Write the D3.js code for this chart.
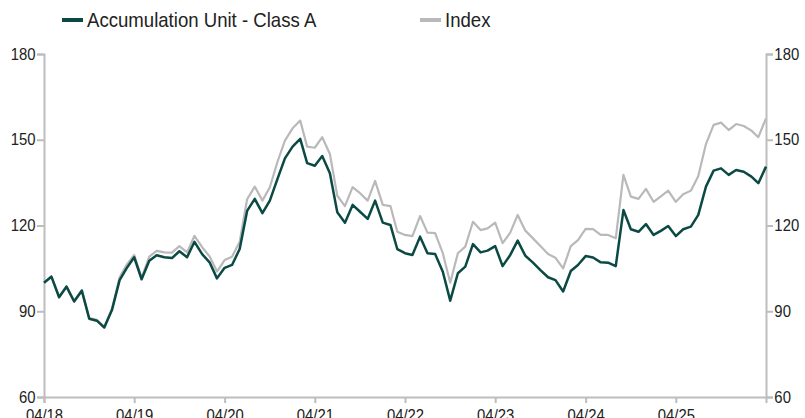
<!DOCTYPE html>
<html>
<head>
<meta charset="utf-8">
<script src="https://cdn.jsdelivr.net/npm/d3@7"></script>
<style>
  body { margin: 0; background: #fff; }
  svg text { font-family: "Liberation Sans", Arial, sans-serif; fill: #222; }
</style>
</head>
<body>
<div id="chart"></div>
<script>
// monthly observations, 04/18 .. 04/26
const startMonth = new Date(2018, 3, 1);
const fundValues = [
  100, 102.1, 94.9, 98.6, 93.4, 97.2, 87.4, 86.7, 84.3, 90.4,
  100.9, 105, 108.9, 101.2, 107.7, 109.6, 108.9, 108.6, 111, 108.9,
  114.3, 110, 107, 101.5, 105.2, 106.2, 111.8, 125.1, 129.3, 124.3,
  128.7, 136.3, 143.5, 147.6, 150.3, 141.8, 140.9, 144.3, 138.3, 124.6,
  121, 127.2, 124.8, 122.3, 128.7, 121, 120.2, 111.7, 110.3, 109.7,
  116.1, 110.3, 110, 103.8, 93.7, 103.3, 105.6, 113.5, 110.6, 111.2,
  112.8, 105.8, 109.7, 114.7, 109.4, 107, 104.4, 101.9, 100.9, 96.9,
  104.1, 106.2, 109.3, 108.8, 107.1, 107, 105.8, 125.4, 118.7, 117.8,
  120.5, 116.7, 118.2, 119.8, 116.3, 118.7, 119.6, 123.7, 133.6, 139.2,
  140, 137.7, 139.4, 138.8, 137.1, 134.8, 140.6
];
const indexValues = [
  100, 102.2, 95.1, 98.8, 93.6, 97.4, 87.6, 87.0, 84.6, 90.8,
  101.9, 106.2, 109.7, 101.8, 109.1, 111.1, 110.6, 110.5, 112.8, 110.6,
  116.4, 112.4, 109.1, 103.9, 107.9, 109.1, 114.3, 129.2, 133.6, 128.7,
  133.4, 142.3, 149.7, 154, 156.7, 147.6, 147.2, 150.9, 145, 130.4,
  126.8, 133.4, 131.3, 128.7, 135.6, 127.2, 126.8, 117.8, 116.7, 116.3,
  123.3, 117.5, 117.3, 110.3, 100, 110.3, 112.6, 121.3, 118.4, 119,
  121, 113.8, 117.5, 123.7, 118.2, 115.5, 112.8, 110, 108.7, 105,
  112.8, 114.9, 118.8, 118.7, 116.7, 116.7, 115.5, 137.7, 130.1, 129.3,
  132.8, 128.3, 130.3, 132.2, 128.3, 130.9, 132.2, 137.3, 148.5, 155.2,
  156, 153.4, 155.5, 154.8, 153.2, 150.9, 157.5
];
const seriesNames = ["Accumulation Unit - Class A", "Index"];
const yTicks = [60, 90, 120, 150, 180];
const xTickYears = [2018, 2019, 2020, 2021, 2022, 2023, 2024, 2025];

const dates = fundValues.map((d, i) => d3.timeMonth.offset(startMonth, i));

const W = 805, H = 418;
const margin = { top: 54, right: 39, bottom: 21, left: 44 };
const width = W - margin.left - margin.right;
const height = H - margin.top - margin.bottom;
const squeeze = 'scale(0.93,1)'; // reference type is slightly condensed

const svg = d3.select('#chart').append('svg')
  .attr('width', W)
  .attr('height', H);

const x = d3.scaleTime().domain(d3.extent(dates)).range([0, width]);
const y = d3.scaleLinear().domain([60, 180]).range([height, 0]);

const g = svg.append('g').attr('transform', `translate(${margin.left},${margin.top})`);

const axisColor = '#bdbdbd';

// left / right axes
const yLeft = g.append('g').call(d3.axisLeft(y).tickValues(yTicks).tickSize(7).tickPadding(2));
const yRight = g.append('g').attr('transform', `translate(${width},0)`)
  .call(d3.axisRight(y).tickValues(yTicks).tickSize(7).tickPadding(2));
const xAxis = g.append('g').attr('transform', `translate(0,${height})`)
  .call(d3.axisBottom(x)
    .tickValues(xTickYears.map(yr => new Date(yr, 3, 1)))
    .tickFormat(d3.timeFormat('%m/%y'))
    .tickSize(6).tickPadding(4));

[yLeft, yRight, xAxis].forEach(a => {
  a.select('.domain').attr('stroke', axisColor).attr('stroke-width', 2);
  a.selectAll('.tick line').attr('stroke', axisColor).attr('stroke-width', 2);
  a.selectAll('.tick text').attr('font-size', 16).attr('fill', '#222')
    .attr('transform', squeeze);
});
xAxis.selectAll('.tick text').attr('dy', '0.88em');

// lines
const line = d3.line()
  .x((d, i) => x(dates[i]))
  .y(d => y(d));

g.append('path')
  .datum(indexValues)
  .attr('fill', 'none')
  .attr('stroke', '#b9b9b9')
  .attr('stroke-width', 2.2)
  .attr('stroke-linejoin', 'round')
  .attr('d', line);

g.append('path')
  .datum(fundValues)
  .attr('fill', 'none')
  .attr('stroke', '#0b4a44')
  .attr('stroke-width', 2.5)
  .attr('stroke-linejoin', 'round')
  .attr('d', line);

// legend
const legend = svg.append('g').attr('transform', 'translate(0,20)');
const legendItems = [
  { name: seriesNames[0], color: '#0b4a44', x: 62 },
  { name: seriesNames[1], color: '#b9b9b9', x: 420 }
];
legendItems.forEach(it => {
  legend.append('line')
    .attr('x1', it.x).attr('x2', it.x + 21)
    .attr('y1', 0).attr('y2', 0)
    .attr('stroke', it.color).attr('stroke-width', 4);
  legend.append('text')
    .attr('transform', `translate(${it.x + 25},0) ${squeeze}`)
    .attr('dy', '0.35em')
    .attr('font-size', 20)
    .text(it.name);
});
</script>
</body>
</html>
